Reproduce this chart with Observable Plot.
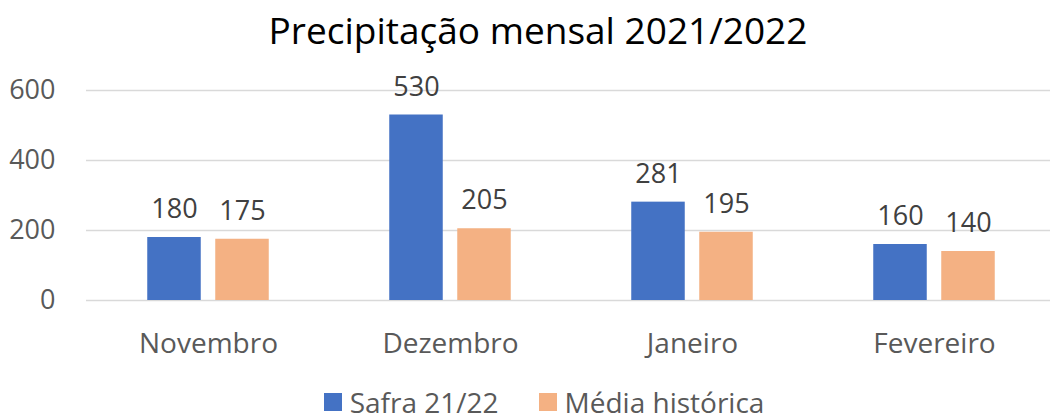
<!DOCTYPE html>
<html><head><meta charset="utf-8">
<script src="https://cdn.jsdelivr.net/npm/d3@7"></script>
<script src="https://cdn.jsdelivr.net/npm/@observablehq/plot@0.6"></script>
<style>
body{margin:0;background:#fff;font-family:"Open Sans",sans-serif;width:1050px;height:419px;overflow:hidden}
#title{height:60px;line-height:60px;text-align:center;font-size:37px;color:#000;padding-left:26px}
#legend{display:flex;justify-content:center;align-items:center;gap:40px;height:48px;font-size:28px;color:#595959;margin-left:38px}
.sw{display:inline-block;width:18px;height:18px;margin-right:8px}
.item{display:flex;align-items:center}
</style></head><body>
<div id="title">Precipitação mensal 2021/2022</div>
<div id="chart" style="height:320px"></div>
<div id="legend" style="margin-top:-2px"></div>
<script>
const months = ["Novembro","Dezembro","Janeiro","Fevereiro"];
const seriesNames = ["Safra 21/22","Média histórica"];
const safra = [180,530,281,160];
const media = [175,205,195,140];
const yTicks = [0,200,400,600];
const colors = ["#4472C4","#F4B183"];

const rowsSafra = months.map((m,i)=>({month:m, value:safra[i]}));
const rowsMedia = months.map((m,i)=>({month:m, value:media[i]}));

const chart = Plot.plot({
  width:1050, height:320,
  marginLeft:86, marginRight:0, marginTop:30, marginBottom:80,
  style:{fontFamily:"Open Sans, sans-serif", background:"#fff", overflow:"visible", display:"block"},
  x:{domain:months, range:[86,1056], padding:0},
  y:{domain:[0,600], range:[240,30]},
  marks:[
    Plot.ruleY(yTicks,{stroke:"#d9d9d9", strokeWidth:1.5}),
    Plot.barY(rowsSafra,{x:"month", y:"value", fill:colors[0], insetLeft:60.25, insetRight:128.25}),
    Plot.barY(rowsMedia,{x:"month", y:"value", fill:colors[1], insetLeft:128.25, insetRight:60.25}),
    Plot.text(rowsSafra,{x:"month", y:"value", text:d=>String(d.value), dx:-34, dy:-28, fontSize:27, fill:"#404040"}),
    Plot.text(rowsMedia,{x:"month", y:"value", text:d=>String(d.value), dx:34, dy:-28, fontSize:27, fill:"#404040"}),
    Plot.axisY({ticks:yTicks, tickSize:0, tickPadding:31, fontSize:27, fill:"#595959", label:null}),
    Plot.axisX({tickSize:0, tickPadding:33, fontSize:28, fill:"#595959", label:null})
  ]
});
document.getElementById("chart").appendChild(chart);

const lg = document.getElementById("legend");
seriesNames.forEach((n,i)=>{
  const it = document.createElement("span"); it.className="item";
  const sw = document.createElement("span"); sw.className="sw"; sw.style.background=colors[i];
  it.appendChild(sw); it.appendChild(document.createTextNode(n)); lg.appendChild(it);
});
</script>
</body></html>
